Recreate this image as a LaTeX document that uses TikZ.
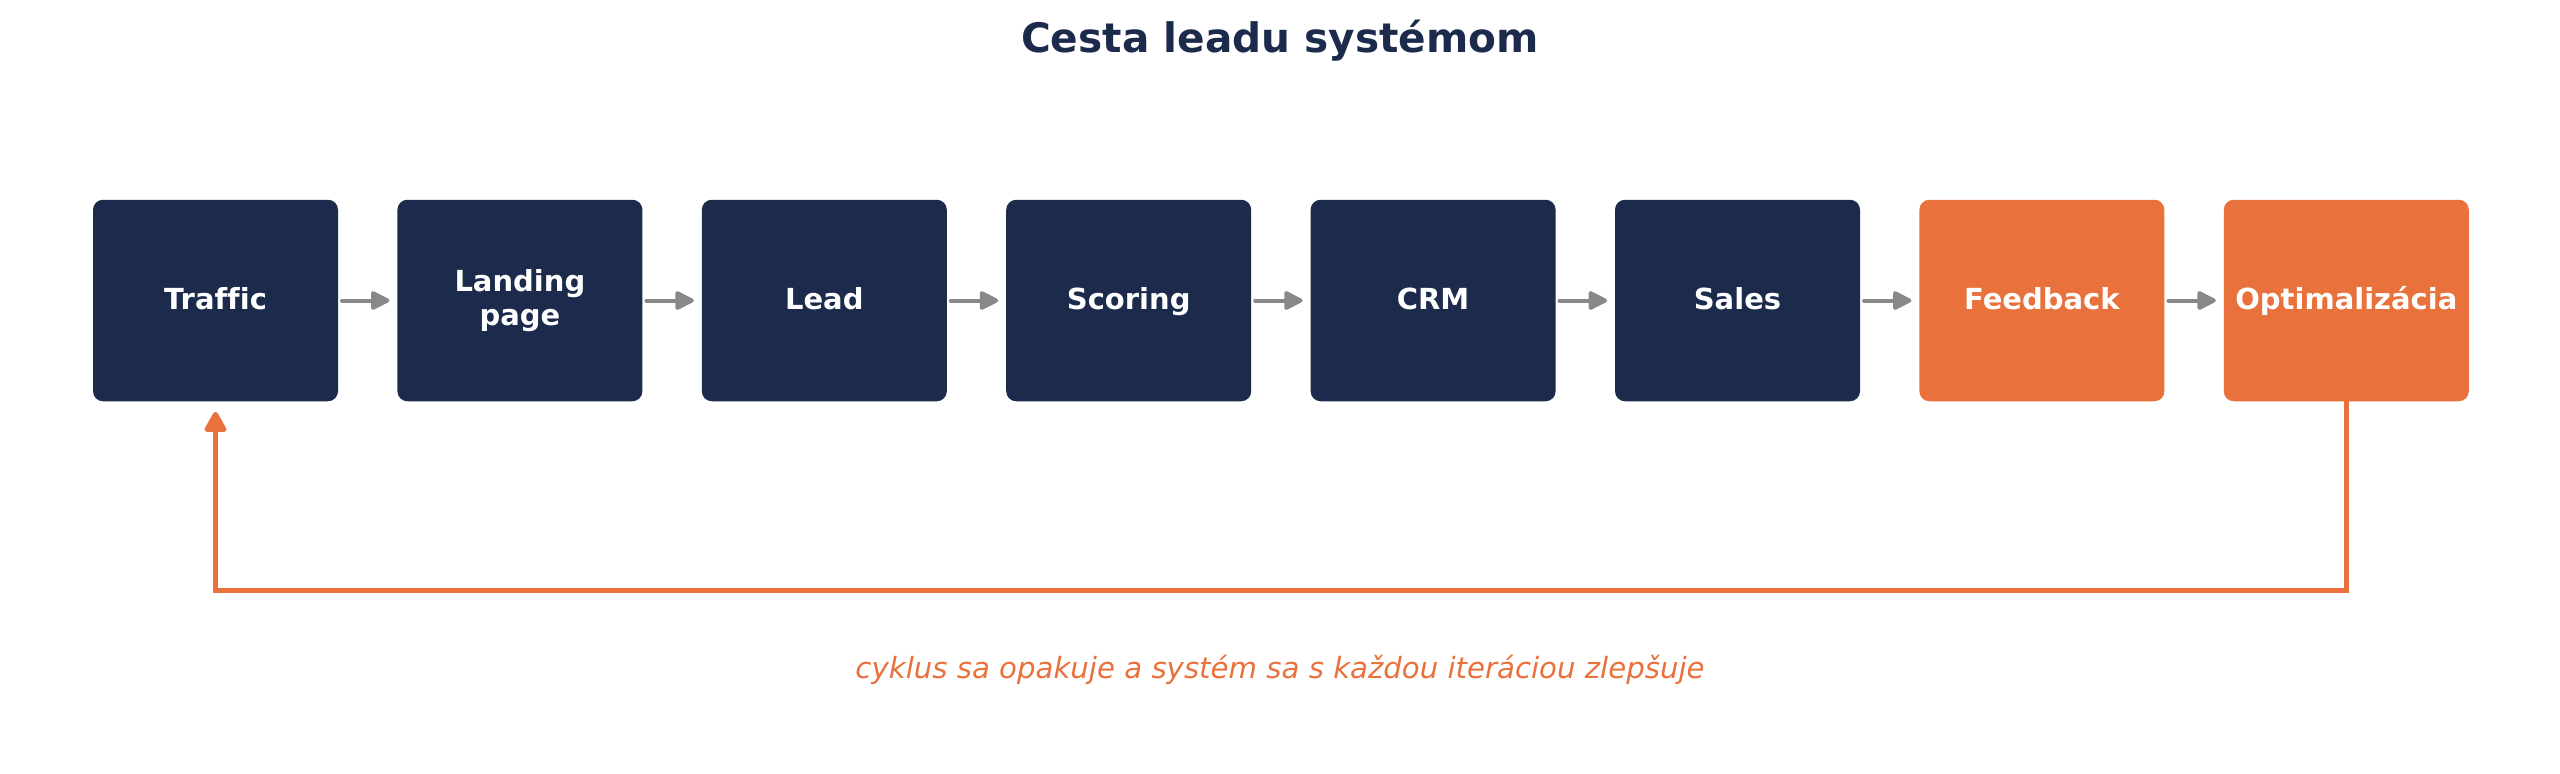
\documentclass[tikz,border=0pt]{standalone}
\usepackage{fontspec}
\setmainfont{DejaVu Sans}[Ligatures={NoCommon}]
\usetikzlibrary{arrows.meta}
\definecolor{navy}{HTML}{1C2A4B}
\definecolor{orng}{HTML}{E8713C}
\definecolor{arrgray}{HTML}{888888}
\tikzset{
  stepbox/.style={rectangle, rounded corners=5pt, minimum width=122.5pt, minimum height=100.75pt,
    inner sep=0pt, outer sep=0pt, text=white, font=\fontsize{14.5pt}{17pt}\selectfont\bfseries, align=center},
  oneline/.style={text height=12pt, text depth=3.2pt},
  navybox/.style={stepbox, fill=navy},
  orangebox/.style={stepbox, fill=orng},
  flowarrow/.style={draw=arrgray, line width=2pt, line cap=round,
    -{Triangle[length=10.5pt,width=10pt,round]}, shorten <=2pt, shorten >=4pt},
  looparrow/.style={draw=orng, line width=2.5pt,
    -{Triangle[length=11.5pt,width=12pt,round]}, shorten >=5.3pt},
}
\begin{document}
\begin{tikzpicture}[x=0.5pt,y=-0.5pt]
\useasboundingbox (0,0) rectangle (2560,773);
\node[font=\fontsize{20.3pt}{24pt}\selectfont\bfseries, text=navy, anchor=base] (title) at (1280,52) {Cesta leadu systémom};
\node[navybox, oneline] (b1) at (215.5,300.5) {Traffic};
\node[navybox] (b2) at (519.9,300.5) {Landing\\page};
\node[navybox, oneline] (b3) at (824.3,300.5) {Lead};
\node[navybox, oneline] (b4) at (1128.7,300.5) {Scoring};
\node[navybox, oneline] (b5) at (1433.1,300.5) {CRM};
\node[navybox, oneline] (b6) at (1737.5,300.5) {Sales};
\node[orangebox, oneline] (b7) at (2041.9,300.5) {Feedback};
\node[orangebox, oneline] (b8) at (2346.3,300.5) {Optimalizácia};
\foreach \a/\b in {b1/b2,b2/b3,b3/b4,b4/b5,b5/b6,b6/b7,b7/b8}
  \draw[flowarrow] (\a.east) -- (\b.west);
\coordinate (loopy) at (0,590.7);
\draw[looparrow] (b8.south) -- (b8.south |- loopy) -| (b1.south);
\node[font=\fontsize{14.6pt}{17pt}\selectfont\itshape, text=orng, anchor=base] (caption) at (1280,678) {cyklus sa opakuje a systém sa s každou iteráciou zlepšuje};
\end{tikzpicture}
\end{document}
